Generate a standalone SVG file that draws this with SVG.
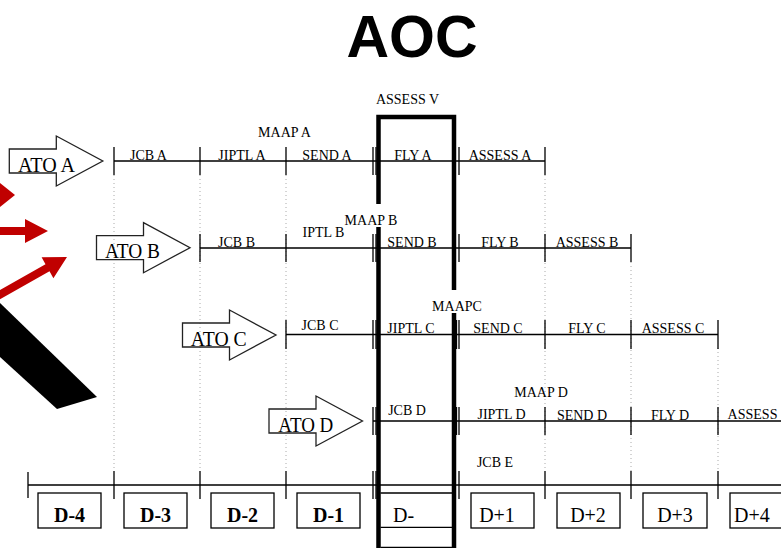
<svg xmlns="http://www.w3.org/2000/svg" xmlns:xlink="http://www.w3.org/1999/xlink" width="781" height="548" viewBox="0 0 781 548">
<style>
.lbl{font-family:"Liberation Serif","Times New Roman",serif;font-size:14px;fill:#000;text-anchor:middle}
.ato{font-family:"Liberation Serif","Times New Roman",serif;font-size:20px;fill:#000}
.day{font-family:"Liberation Serif","Times New Roman",serif;font-size:20px;fill:#000;text-anchor:middle}
.dayb{font-weight:bold}
.ln{stroke:#000;stroke-width:1.3;fill:none}
.dot{stroke:#aaa;stroke-width:1;stroke-dasharray:1 3;fill:none}
.box{stroke:#000;stroke-width:1.3;fill:#fff}
.arr{stroke:#222;stroke-width:1.3;fill:none}
.thick{stroke:#000;stroke-width:4.5;fill:none}
</style>
<defs>
<path id="atoShape" d="M0,-12 H47 V-25 L93.5,0 L47,25 V12 H0 Z"/>
</defs>
<rect width="781" height="548" fill="#fff"/>

<g id="title"><text x="412" y="57" style="font-family:'Liberation Sans',Arial,sans-serif;font-size:59px;font-weight:bold;text-anchor:middle">AOC</text></g>

<g id="decor">
<polygon points="0,183 15,195 0,207" fill="#c00000"/>
<polygon points="-2,227 25,227 25,219 48,231 25,243 25,235 -2,235" fill="#c00000"/>
<polygon points="-12,296.7 45.5,264.3 41.6,257.3 67,257 53.4,278.3 49.5,271.3 -8,303.7" fill="#c00000"/>
<polygon points="0,303 97,397 57,409 0,357" fill="#000"/>
</g>

<g id="gridlines">
<path class="dot" d="M114,175V471 M200,175V471 M286,175V471 M545,175V471 M631,262V471 M718,348V471"/>
</g>

<g id="connectors">
<path class="ln" d="M114,161H545 M114,147V175 M200,147V175 M286,147V175 M373,147V175 M376,147V175 M459,147V175 M545,147V175"/>
<path class="ln" d="M200,248H631 M200,234V262 M286,234V262 M373,234V262 M376,234V262 M459,234V262 M545,234V262 M631,234V262"/>
<path class="ln" d="M286,334.5H718 M286,320V349 M373,320V349 M376,320V349 M456.5,320V349 M459,320V349 M545,320V349 M631,320V349 M718,320V349"/>
<path class="ln" d="M373,421H781 M373,407V435 M376,407V435 M456.5,407V435 M459,407V435 M545,407V435 M631,407V435 M718,407V435"/>
<path class="ln" d="M28,485H781 M28,472V498 M114,471V499 M200,471V499 M286,471V499 M373,471V499 M376,471V499 M459,471V499 M545,471V499 M631,471V499 M718,471V499"/>
</g>

<g id="ato-a"><use xlink:href="#atoShape" href="#atoShape" class="arr" transform="translate(9.3,161)"/><text class="ato" x="18" y="171.7" textLength="57" lengthAdjust="spacingAndGlyphs">ATO A</text></g>
<g id="ato-b"><use xlink:href="#atoShape" href="#atoShape" class="arr" transform="translate(96.5,247.7)"/><text class="ato" x="105" y="257.5" textLength="55" lengthAdjust="spacingAndGlyphs">ATO B</text></g>
<g id="ato-c"><use xlink:href="#atoShape" href="#atoShape" class="arr" transform="translate(182.5,335)"/><text class="ato" x="190.7" y="345.7" textLength="56" lengthAdjust="spacingAndGlyphs">ATO C</text></g>
<g id="ato-d"><use xlink:href="#atoShape" href="#atoShape" class="arr" transform="translate(269,421)"/><text class="ato" x="278.3" y="431.7" textLength="55" lengthAdjust="spacingAndGlyphs">ATO D</text></g>

<g id="row-a">
<text class="lbl" x="407.5" y="104">ASSESS V</text>
<text class="lbl" x="284.5" y="137">MAAP A</text>
<text class="lbl" x="148.5" y="159.5">JCB A</text>
<text class="lbl" x="242" y="159.5">JIPTL A</text>
<text class="lbl" x="327" y="159.5">SEND A</text>
<text class="lbl" x="413" y="159.5">FLY A</text>
<text class="lbl" x="500" y="159.5">ASSESS A</text>
</g>

<g id="row-b">
<text class="lbl" x="371" y="225">MAAP B</text>
<text class="lbl" x="236.5" y="246.5">JCB B</text>
<text class="lbl" x="323.5" y="237">IPTL B</text>
<text class="lbl" x="412" y="246.5">SEND B</text>
<text class="lbl" x="500" y="246.5">FLY B</text>
<text class="lbl" x="587" y="246.5">ASSESS B</text>
</g>

<g id="row-c">
<text class="lbl" x="457" y="311">MAAPC</text>
<text class="lbl" x="320" y="330">JCB C</text>
<text class="lbl" x="411" y="332.5">JIPTL C</text>
<text class="lbl" x="498" y="332.5">SEND C</text>
<text class="lbl" x="587" y="332.5">FLY C</text>
<text class="lbl" x="673" y="332.5">ASSESS C</text>
</g>

<g id="row-d">
<text class="lbl" x="541" y="397">MAAP D</text>
<text class="lbl" x="407" y="415">JCB D</text>
<text class="lbl" x="501.5" y="418.5">JIPTL D</text>
<text class="lbl" x="582" y="420">SEND D</text>
<text class="lbl" x="670" y="420">FLY D</text>
<text class="lbl" x="727.5" y="419" style="text-anchor:start" textLength="50" lengthAdjust="spacingAndGlyphs">ASSESS</text>
<text class="lbl" x="495" y="467">JCB E</text>
</g>

<g id="bracket">
<path class="thick" d="M378.5,204 V117 H454 V290"/>
<path class="thick" d="M378.5,227 V548 M454,313 V548"/>
</g>

<g id="days">
<g id="d-4"><rect class="box" x="38" y="493" width="63" height="35"/><text class="day dayb" x="69.5" y="521.5">D-4</text></g>
<g id="d-3"><rect class="box" x="124" y="493" width="63" height="35"/><text class="day dayb" x="155.5" y="521.5">D-3</text></g>
<g id="d-2"><rect class="box" x="211" y="493" width="63" height="35"/><text class="day dayb" x="242.5" y="521.5">D-2</text></g>
<g id="d-1"><rect class="box" x="297" y="493" width="63" height="35"/><text class="day dayb" x="328.5" y="521.5">D-1</text></g>
<g id="d-0"><path class="ln" d="M380.5,493H452 M380.5,527.3H452 M380.5,547.3H452"/><text class="day" x="393" y="522" style="text-anchor:start">D-</text></g>
<g id="d+1"><rect class="box" x="471" y="493" width="63" height="35"/><text class="day" x="497" y="521.5">D+1</text></g>
<g id="d+2"><rect class="box" x="557" y="493" width="63" height="35"/><text class="day" x="588" y="521.5">D+2</text></g>
<g id="d+3"><rect class="box" x="643" y="493" width="64" height="35"/><text class="day" x="675" y="521.5">D+3</text></g>
<g id="d+4"><rect class="box" x="730" y="493" width="63" height="35"/><text class="day" x="734" y="521.5" style="text-anchor:start">D+4</text></g>
</g>
</svg>
